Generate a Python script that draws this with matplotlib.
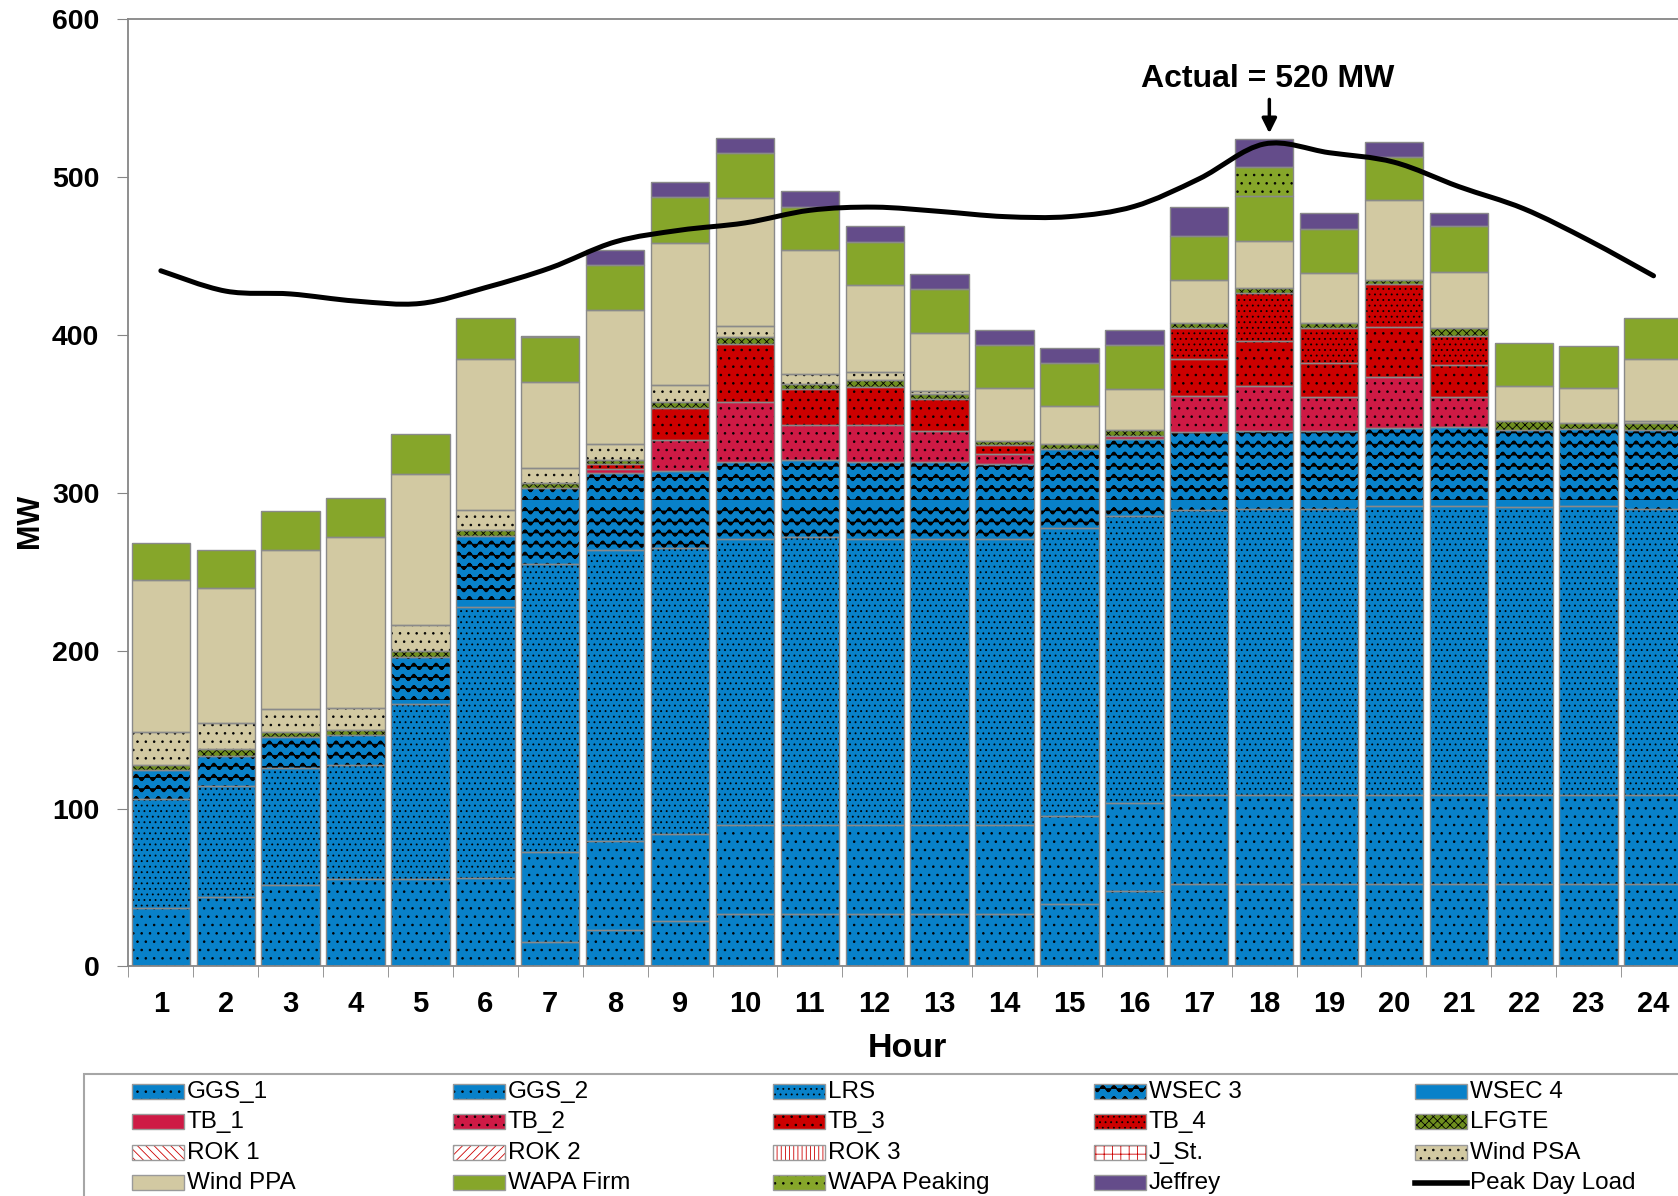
import numpy as np
import matplotlib
matplotlib.use("Agg")
import matplotlib.pyplot as plt
from matplotlib import hatch as mhatch
from matplotlib.path import Path
from matplotlib.patches import Rectangle, PathPatch
from matplotlib.lines import Line2D

# ---- data (MW per hour) ----
hours = list(range(1, 25))

ggs_1 = [0, 0, 0, 0, 0, 0, 15.5, 23, 29, 33, 33, 33, 33, 33, 39.5, 48, 52, 52, 52, 52, 52, 52, 52, 52]
ggs_2 = [37, 44, 51.5, 55.5, 55.5, 56, 57, 56.5, 55, 56.5, 56.5, 56.5, 56.5, 56.5, 56, 55.5,
         56.5, 56.5, 56.5, 56.5, 56.5, 56.5, 56.5, 56.5]
lrs = [69, 70.5, 74.5, 72, 110.5, 171.5, 182.5, 184.5, 181, 181, 182.5, 181, 181, 181, 182.5, 182,
       180.5, 181, 181, 183, 183, 182.5, 183, 181]
wsec_3 = [18.5, 19, 19.5, 19, 30, 45, 48, 48.5, 49, 49, 48.5, 49, 49, 48, 50, 48.5,
          49.5, 49.5, 49.5, 49.5, 50, 49, 49, 50]
wsec_4 = [0] * 24
tb_1 = [0] * 15 + [2] + [0] * 8
tb_2 = [0, 0, 0, 0, 0, 0, 0, 2.5, 19.5, 38, 22.5, 23.5, 19.5, 6, 0, 0, 23, 28.5, 21.5, 32.5, 19, 0, 0, 0]
tb_3 = [0, 0, 0, 0, 0, 0, 0, 3, 20.5, 37, 22.5, 24, 20.5, 5.5, 0, 0, 23, 29, 22, 31.5, 20.5, 0, 0, 0]
tb_4 = [0] * 16 + [20, 30, 22, 27, 18.5] + [0, 0, 0]
lfgte = [3, 4, 3, 3.5, 3.5, 4, 3, 3, 3.5, 4, 3.5, 4.5, 3, 3, 3, 4, 3, 3, 3, 3, 5, 5.5, 4, 4.5]
rok_1 = [0] * 24
rok_2 = [0] * 24
rok_3 = [0] * 24
j_st = [0] * 24
wind_psa = [21, 17, 14.5, 14, 17, 12.5, 10, 10, 11, 7.5, 6, 5, 2, 0, 0, 0, 0, 0, 0, 0, 0, 0, 0, 1.5]
wind_ppa = [96, 85.5, 101, 108, 95.5, 95.5, 54.5, 85, 90, 81, 79, 55, 36.5, 33.5, 24, 25.5,
            27.5, 30, 31.5, 50.5, 35.5, 22, 22, 39.5]
wapa_firm = [23.5, 24, 24.5, 24.5, 25, 26, 28, 28.5, 29, 28.5, 27, 27.5, 28, 27, 27, 28,
             27.5, 28.5, 28, 27, 29, 27.5, 26.5, 25.5]
wapa_peaking = [0] * 17 + [18.5] + [0] * 6
jeffrey = [0] * 6 + [1, 9.5, 9.5, 9.5, 10, 10, 9.5, 9.5, 9.5, 9.5, 18.5, 17.5, 10, 10, 8.5, 0, 0, 0]

peak_load = [440.7, 427.8, 426, 421.5, 420, 430, 442.5, 459, 466.4, 471, 479, 481, 478.3, 475,
             475, 481.5, 499, 521, 515.5, 509.5, 494, 480, 460, 437.5]

yticks = [0, 100, 200, 300, 400, 500, 600]
actual_label = "Actual = 520 MW"


# wavy hatch (Excel "wave" pattern); takes the place of the big-circle 'O' hatch
class WaveHatch(mhatch.HatchPatternBase):
    def __init__(self, hatch, density):
        self.num_lines = int(hatch.count("O") * 9)
        self.npts = 91
        self.offsets = (0.0, 0.006)   # doubled stroke -> bolder wave
        self.num_vertices = self.num_lines * self.npts * len(self.offsets)
        self.filled = False

    def set_vertices_and_codes(self, vertices, codes):
        xs = np.linspace(0.0, 1.0, self.npts)
        k = 0
        for i in range(self.num_lines):
            for off in self.offsets:
                sl = slice(k * self.npts, (k + 1) * self.npts)
                vertices[sl, 0] = xs
                vertices[sl, 1] = i / self.num_lines + off + 0.03 * np.sin(2 * np.pi * 9 * xs)
                codes[sl] = Path.LINETO
                codes[k * self.npts] = Path.MOVETO
                k += 1


mhatch._hatch_types = [t for t in mhatch._hatch_types if t is not mhatch.LargeCircles] + [WaveHatch]

plt.rcParams["font.family"] = ["Liberation Sans", "DejaVu Sans"]
plt.rcParams["hatch.linewidth"] = 0.6

blue = "#0881C9"
crimson = "#CE1A45"
red = "#CC0000"
olive = "#6E8E1E"
beige = "#D2C9A2"
green = "#86A62A"
purple = "#644C8A"

# name, values, face, hatch, hatch colour
series = [
    ("GGS_1", ggs_1, blue, "..", "black"),
    ("GGS_2", ggs_2, blue, "..", "black"),
    ("LRS", lrs, blue, "...", "black"),
    ("WSEC 3", wsec_3, blue, "O", "black"),
    ("WSEC 4", wsec_4, blue, None, "black"),
    ("TB_1", tb_1, crimson, None, "black"),
    ("TB_2", tb_2, crimson, "..", "black"),
    ("TB_3", tb_3, red, "..", "black"),
    ("TB_4", tb_4, red, "...", "black"),
    ("LFGTE", lfgte, olive, "xxxx", "black"),
    ("ROK 1", rok_1, "white", "\\\\\\\\", red),
    ("ROK 2", rok_2, "white", "////", red),
    ("ROK 3", rok_3, "white", "||||", red),
    ("J_St.", j_st, "white", "++", red),
    ("Wind PSA", wind_psa, beige, "..", "black"),
    ("Wind PPA", wind_ppa, beige, None, "black"),
    ("WAPA Firm", wapa_firm, green, None, "black"),
    ("WAPA Peaking", wapa_peaking, green, "..", "black"),
    ("Jeffrey", jeffrey, purple, None, "black"),
]

W, H = 1678, 1196
fig = plt.figure(figsize=(W / 100, H / 100), dpi=100)
ax = fig.add_axes([128.4 / W, 229.6 / H, 1557.6 / W, 947.1 / H])

bottom = np.zeros(24)
for name, vals, fc, hat, hc in series:
    vals = np.array(vals, dtype=float)
    m = vals > 0
    if m.any():
        x = np.array(hours)[m]
        ax.bar(x, vals[m], 0.9, bottom=bottom[m], color=fc, edgecolor=hc,
               hatch=hat, linewidth=0, zorder=2)
        ax.bar(x, vals[m], 0.9, bottom=bottom[m], fill=False,
               edgecolor="#8a8a8a", linewidth=1.0, zorder=3)
    bottom += vals

# smoothed load line (Excel "smoothed line"): Catmull-Rom -> cubic Bezier through the points
pts = np.column_stack([hours, peak_load]).astype(float)
ext = np.vstack([pts[0], pts, pts[-1]])
verts = [pts[0]]
for i in range(len(pts) - 1):
    p0, p1, p2, p3 = ext[i], ext[i + 1], ext[i + 2], ext[i + 3]
    verts += [p1 + (p2 - p0) / 6, p2 - (p3 - p1) / 6, p2]
codes = [Path.MOVETO] + [Path.CURVE4] * (len(verts) - 1)
ax.add_patch(PathPatch(Path(verts, codes), fill=False, edgecolor="black", lw=3.6,
                       capstyle="round", zorder=5))

ax.text(18.05, 562, actual_label, ha="center", va="center", fontsize=23, fontweight="bold")
ax.annotate("", xy=(18.08, 526), xytext=(18.08, 551),
            arrowprops=dict(arrowstyle="-|>", color="black", lw=2.5, mutation_scale=22))

ax.set_xlim(0.5, 24.5)
ax.set_ylim(0, 600)
ax.set_yticks(yticks)
ax.set_xticks(hours)
ax.set_xticks(np.arange(0.5, 25, 1), minor=True)
ax.tick_params(axis="x", which="major", length=0, pad=17, labelsize=21)
ax.tick_params(axis="x", which="minor", length=8, color="#868686", direction="out")
ax.tick_params(axis="y", length=8, color="#868686", pad=13, labelsize=20.5)
for lab in ax.get_xticklabels() + ax.get_yticklabels():
    lab.set_fontweight("bold")

for side in ["left", "bottom", "top"]:
    ax.spines[side].set_color("#868686")
    ax.spines[side].set_linewidth(1.3)
ax.spines["right"].set_visible(False)

ax.set_xlabel("Hour", fontsize=24.5, fontweight="bold", labelpad=11)
fig.text(30 / W, 1 - 521 / H, "MW", rotation=90, ha="center", va="center",
         fontsize=22, fontweight="bold")

# ---- legend box (row-wise, 5 columns, runs off the bottom/right edge) ----
fig.add_artist(Rectangle((83.5 / W, -0.1), 1.0, 0.1 + 1 - 1074.5 / H, transform=fig.transFigure,
                         fill=False, edgecolor="#a6a6a6", lw=1.5, clip_on=False))
col_x = [131.6, 452.7, 772.7, 1093.8, 1414.8]
row_y = [1091.6, 1121.6, 1152.6, 1182.6]
entries = [(s[0], s[2], s[3], s[4]) for s in series] + [("Peak Day Load", None, None, None)]
for k, (name, fc, hat, hc) in enumerate(entries):
    r, c = divmod(k, 5)
    px, py = col_x[c], row_y[r]
    if fc is None:
        fig.add_artist(Line2D([px / W, (px + 52) / W], [1 - py / H, 1 - py / H],
                              transform=fig.transFigure, color="black", lw=4))
    else:
        fig.add_artist(Rectangle((px / W, 1 - (py + 7.5) / H), 52 / W, 15 / H,
                                 transform=fig.transFigure, facecolor=fc, edgecolor=hc,
                                 hatch=hat, lw=0))
        fig.add_artist(Rectangle((px / W, 1 - (py + 7.5) / H), 52 / W, 15 / H,
                                 transform=fig.transFigure, fill=False,
                                 edgecolor="#9a9a9a", lw=1.0))
    fig.text((px + 55) / W, 1 - py / H, name, ha="left", va="center", fontsize=17.5)

fig.savefig("out.png", dpi=100)
